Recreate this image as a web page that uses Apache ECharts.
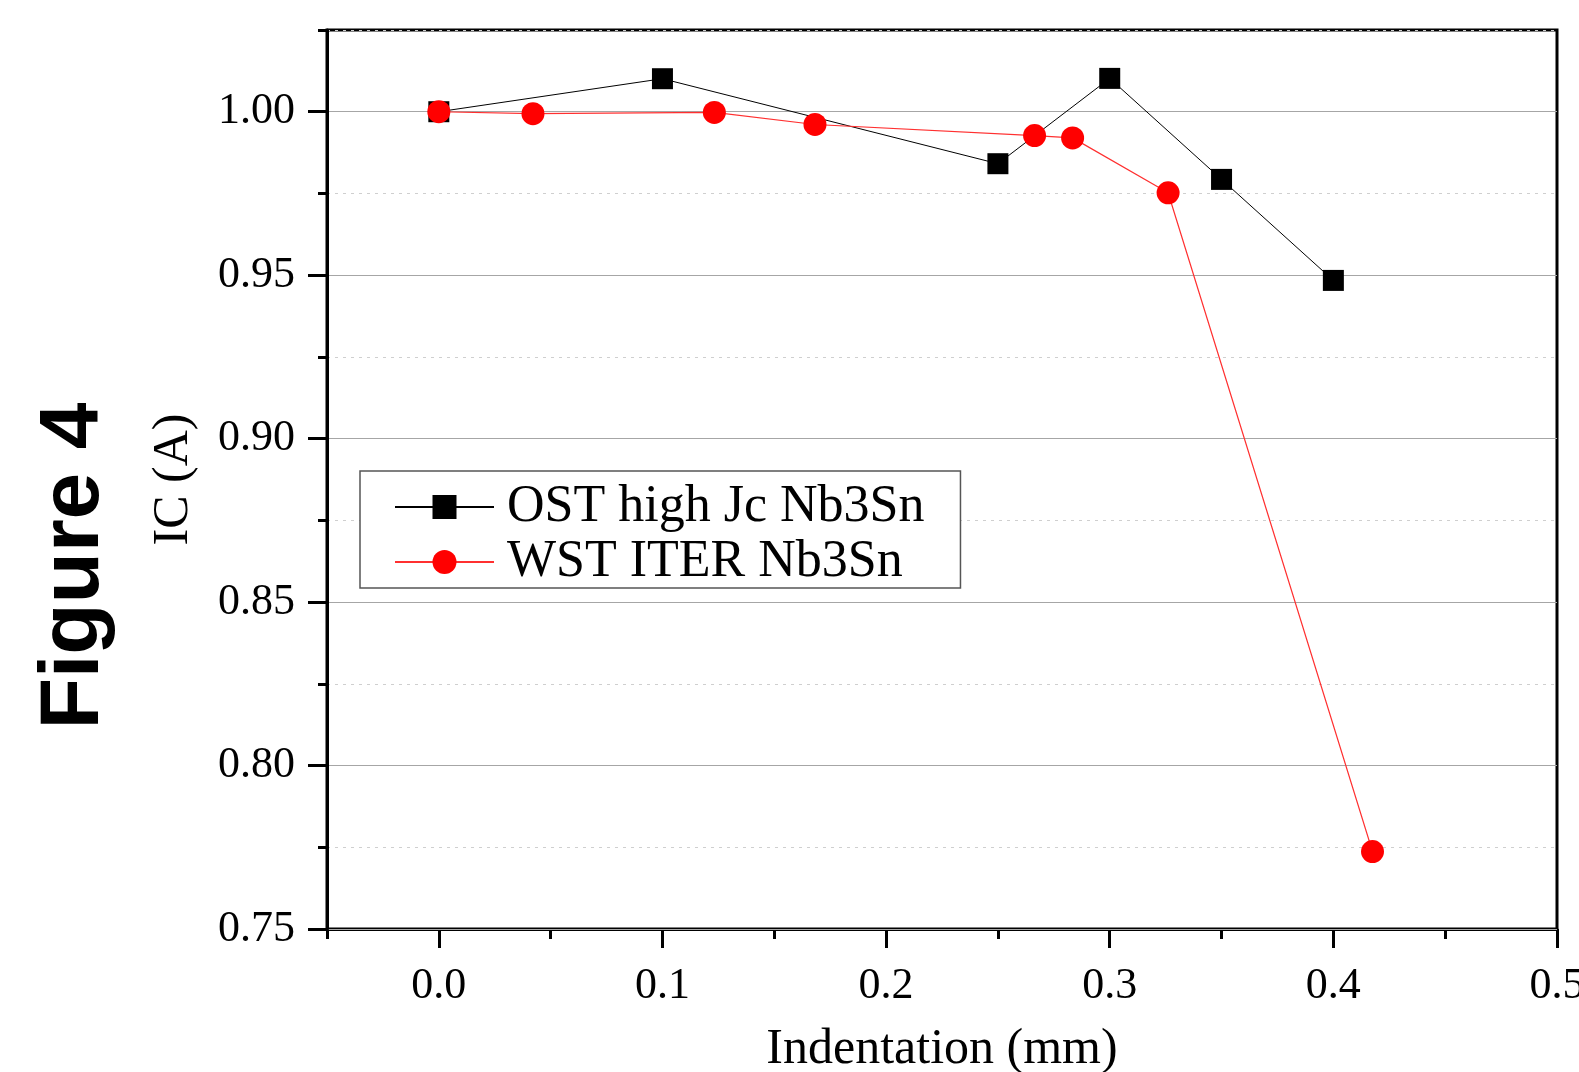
<!DOCTYPE html>
<html>
<head>
<meta charset="utf-8">
<script src="https://cdn.jsdelivr.net/npm/echarts@6/dist/echarts.min.js"></script>
<style>
  html, body { margin: 0; padding: 0; background: #fff; }
  #chart { width: 1579px; height: 1072px; }
</style>
</head>
<body>
<div id="chart"></div>
<script>
// ---- Data ----
const seriesNames = ['OST high Jc Nb3Sn', 'WST ITER Nb3Sn'];
const ostX = [0, 0.1, 0.25, 0.3, 0.35, 0.4];
const ostY = [1.000, 1.0101, 0.9841, 1.0102, 0.9793, 0.9484];
const wstX = [0, 0.0421, 0.1232, 0.1682, 0.2664, 0.2834, 0.3261, 0.4175];
const wstY = [1.000, 0.9994, 0.9998, 0.9961, 0.9927, 0.9920, 0.9752, 0.7737];

const xTickValues = [0, 0.1, 0.2, 0.3, 0.4, 0.5];
const xTickLabels = ['0.0', '0.1', '0.2', '0.3', '0.4', '0.5'];
const yTickValues = [0.75, 0.80, 0.85, 0.90, 0.95, 1.00];
const yTickLabels = ['0.75', '0.80', '0.85', '0.90', '0.95', '1.00'];

const xName = 'Indentation (mm)';
const yName = 'IC (A)';
const sideLabel = 'Figure 4';

function pairs(xs, ys) { return xs.map((x, i) => [x, ys[i]]); }
function labelFor(values, labels) {
  return function (v) {
    for (let i = 0; i < values.length; i++) {
      if (Math.abs(values[i] - v) < 1e-6) return labels[i];
    }
    return '';
  };
}

const serif = '"Liberation Serif", "DejaVu Serif", serif';
const chart = echarts.init(document.getElementById('chart'), null, { renderer: 'canvas' });

const option = {
  backgroundColor: '#ffffff',
  animation: false,
  grid: {
    left: 327, right: 22, top: 30, bottom: 143,
    outerBoundsMode: 'none', containLabel: false,
    show: true, borderColor: '#000', borderWidth: 3, backgroundColor: 'transparent'
  },
  legend: {
    orient: 'vertical',
    left: 360, top: 471,
    padding: [10, 36, 0, 34],
    itemGap: 3,
    itemWidth: 99,
    itemHeight: 30,
    borderColor: '#555',
    borderWidth: 1.5,
    backgroundColor: '#fff',
    textStyle: { fontFamily: serif, fontSize: 52, lineHeight: 48, color: '#000', padding: [0, 0, 0, 8] },
    data: seriesNames
  },
  xAxis: [
    {
      type: 'value', min: -0.05, max: 0.5, interval: 0.05,
      axisLine: { show: true, onZero: false, lineStyle: { color: '#000', width: 3 } },
      axisTick: { show: true, length: 10, inside: false, lineStyle: { color: '#000', width: 3 } },
      axisLabel: {
        show: true, customValues: xTickValues,
        formatter: labelFor(xTickValues, xTickLabels),
        fontFamily: serif, fontSize: 44, color: '#000', margin: 35
      },
      splitLine: { show: false },
      name: xName, nameLocation: 'middle', nameGap: 96,
      nameTextStyle: { fontFamily: serif, fontSize: 50, color: '#000' }
    },
    {
      type: 'value', min: -0.05, max: 0.5, position: 'bottom', offset: 0,
      axisLine: { show: false, onZero: false },
      axisTick: { show: true, customValues: xTickValues, length: 19, lineStyle: { color: '#000', width: 3 } },
      axisLabel: { show: false },
      splitLine: { show: false }
    }
  ],
  yAxis: [
    {
      type: 'value', min: 0.75, max: 1.025, interval: 0.05, position: 'left', offset: 0,
      axisLine: { show: true, onZero: false, lineStyle: { color: '#000', width: 3 } },
      axisTick: { show: true, customValues: yTickValues, length: 19, lineStyle: { color: '#000', width: 3 } },
      axisLabel: {
        show: true, customValues: yTickValues,
        formatter: labelFor(yTickValues, yTickLabels),
        fontFamily: serif, fontSize: 44, color: '#000', margin: 32
      },
      splitLine: { show: true, lineStyle: { color: '#a6a6a6', width: 1.2 } },
      name: yName, nameLocation: 'middle', nameGap: 128,
      nameTextStyle: { fontFamily: serif, fontSize: 50, color: '#000' },
      z: 3
    },
    {
      type: 'value', min: 0.75, max: 1.025, interval: 0.025, position: 'left', offset: 0,
      axisLine: { show: false, onZero: false },
      axisTick: { show: true, length: 9, lineStyle: { color: '#000', width: 3 } },
      axisLabel: { show: false },
      splitLine: { show: true, lineStyle: { color: '#cfcfcf', width: 1, type: [3, 5] } },
      z: 1
    }
  ],
  series: [
    {
      name: seriesNames[0], type: 'line', xAxisIndex: 0, yAxisIndex: 0,
      data: pairs(ostX, ostY),
      symbol: 'rect', symbolSize: 21,
      itemStyle: { color: '#000' },
      lineStyle: { color: '#000', width: 1 },
      z: 5
    },
    {
      name: seriesNames[1], type: 'line', xAxisIndex: 0, yAxisIndex: 0,
      data: pairs(wstX, wstY),
      symbol: 'circle', symbolSize: 23,
      itemStyle: { color: '#ff0000' },
      lineStyle: { color: '#ff3030', width: 1.2 },
      z: 6
    }
  ],
  graphic: [
    {
      type: 'text', x: 75, y: 566, rotation: Math.PI / 2,
      style: {
        text: sideLabel,
        font: 'bold 84px "Liberation Sans", Arial, sans-serif',
        textAlign: 'center', textVerticalAlign: 'middle', fill: '#000'
      }
    }
  ]
};
chart.setOption(option);
</script>
</body>
</html>
